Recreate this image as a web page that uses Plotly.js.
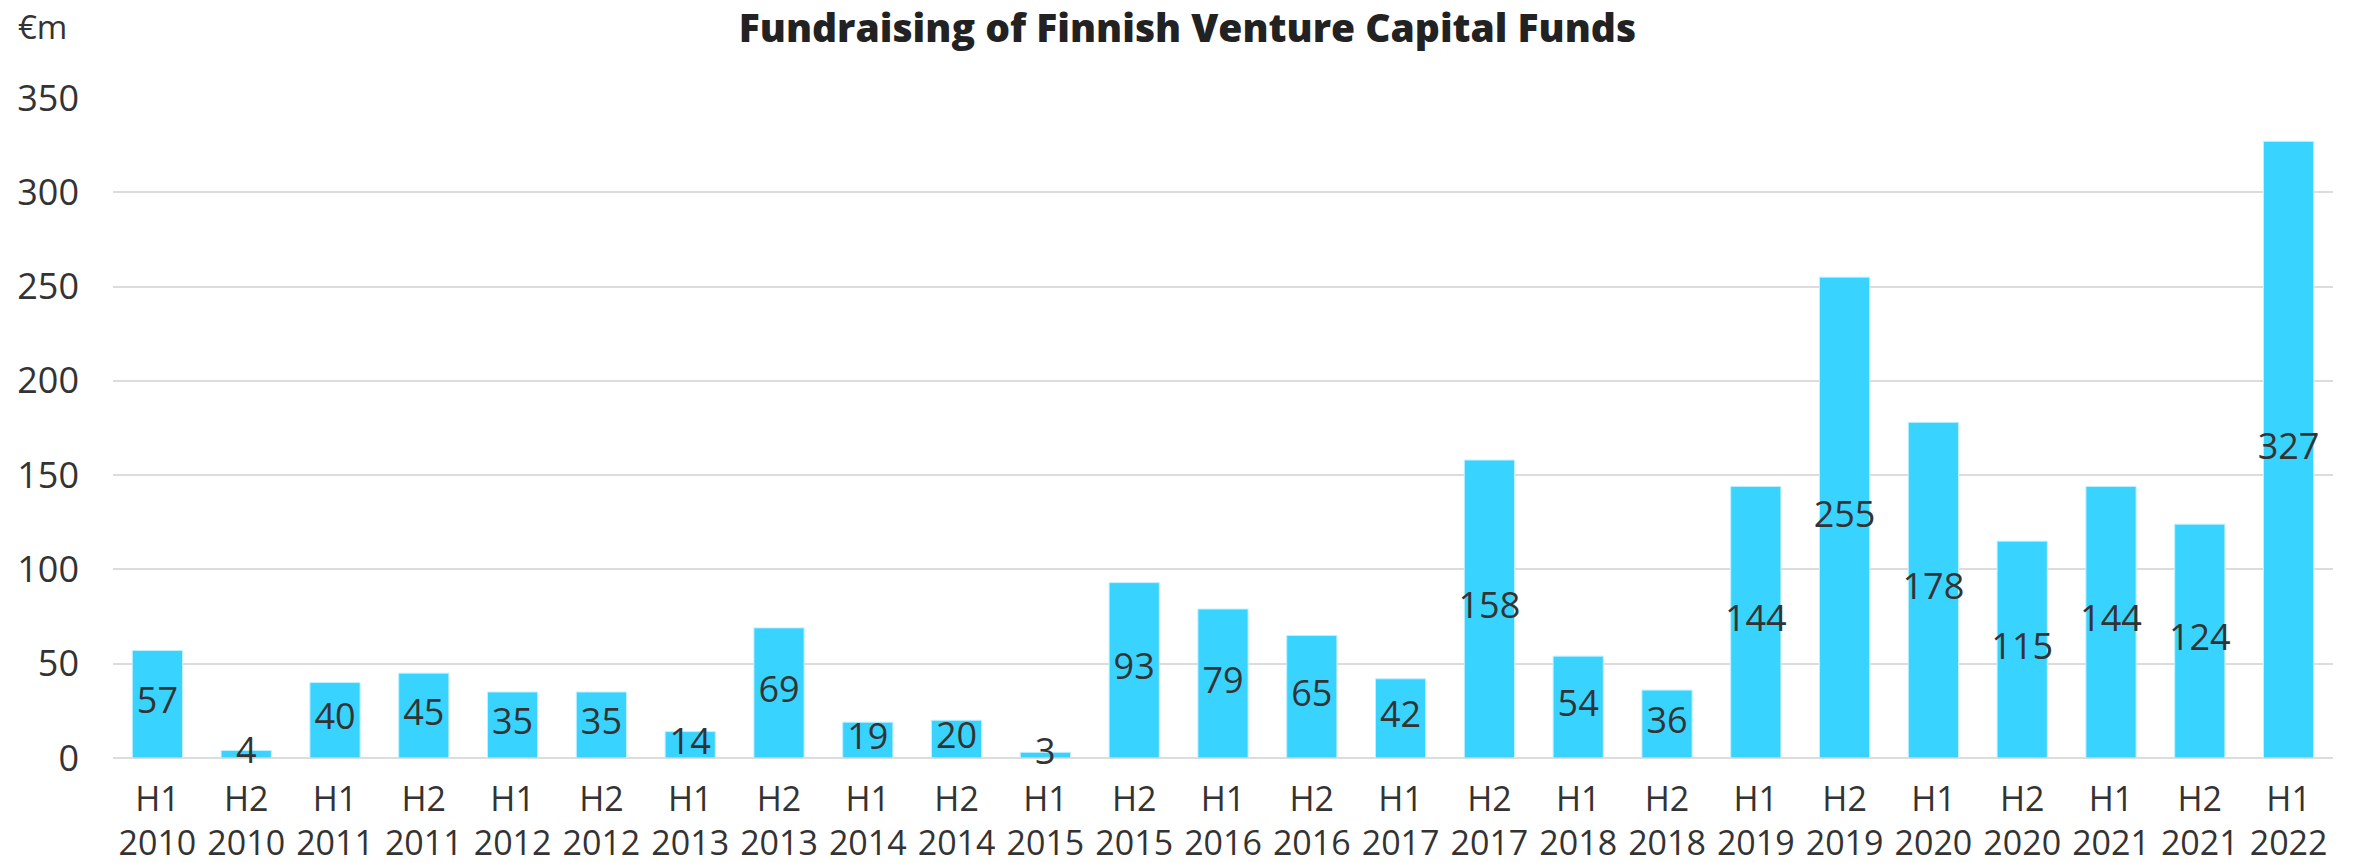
<!DOCTYPE html>
<html>
<head>
<meta charset="utf-8">
<script src="https://cdn.plot.ly/plotly-3.0.1.min.js"></script>
<style>html,body{margin:0;padding:0;background:#fff;}#chart{width:2356px;height:863px;}</style>
</head>
<body>
<div id="chart"></div>
<script>
const periods = ["H1","H2","H1","H2","H1","H2","H1","H2","H1","H2","H1","H2","H1","H2","H1","H2","H1","H2","H1","H2","H1","H2","H1","H2","H1"];
const years = ["2010","2010","2011","2011","2012","2012","2013","2013","2014","2014","2015","2015","2016","2016","2017","2017","2018","2018","2019","2019","2020","2020","2021","2021","2022"];
const values = [57,4,40,45,35,35,14,69,19,20,3,93,79,65,42,158,54,36,144,255,178,115,144,124,327];
const yTicks = [0,50,100,150,200,250,300,350];

const categories = periods.map((p,i) => p + "<br>" + years[i]);
const FONT = "'Open Sans', 'Noto Sans', sans-serif";
const TXT = "#333333";

const bars = {
  type: "bar",
  x: categories,
  y: values,
  marker: {color: "#38D3FF", line: {color: "#bff0ff", width: 1}},
  hoverinfo: "skip",
  showlegend: false
};
const labels = {
  type: "scatter",
  mode: "text",
  x: categories,
  y: values.map(v => v / 2),
  text: values.map(String),
  textposition: "middle center",
  textfont: {family: FONT, size: 36, color: TXT},
  cliponaxis: false,
  hoverinfo: "skip",
  showlegend: false
};

const layout = {
  width: 2356,
  height: 863,
  margin: {l: 113, r: 23, t: 98, b: 105, pad: 0},
  paper_bgcolor: "#ffffff",
  plot_bgcolor: "#ffffff",
  bargap: 0.435,
  font: {family: FONT, color: TXT, size: 35},
  title: {
    text: "Fundraising of Finnish Venture Capital Funds",
    font: {family: FONT, size: 39, color: "#222222", weight: 800},
    x: 0.504, xref: "container", xanchor: "center",
    y: 1 - 28/863, yref: "container", yanchor: "middle"
  },
  xaxis: {
    type: "category",
    range: [-0.5, categories.length - 0.5],
    automargin: false,
    tickfont: {family: FONT, size: 34, color: TXT},
    showgrid: false,
    showline: false,
    ticks: "",
    ticklabelstandoff: 18,
    fixedrange: true
  },
  yaxis: {
    range: [0, 350],
    automargin: false,
    tickvals: yTicks,
    ticktext: yTicks.map(String),
    tickfont: {family: FONT, size: 36, color: TXT},
    showgrid: true,
    gridcolor: "#dcdcdc",
    gridwidth: 2,
    zeroline: true,
    zerolinecolor: "#dcdcdc",
    zerolinewidth: 2,
    showline: false,
    ticks: "",
    ticklabelstandoff: 33,
    fixedrange: true
  },
  annotations: [{
    text: "€m",
    xref: "paper", yref: "paper",
    x: 0, xshift: -97, xanchor: "left",
    y: 1 + (98 - 27) / 660, yanchor: "middle",
    showarrow: false,
    font: {family: FONT, size: 33, color: TXT}
  }]
};

Plotly.newPlot("chart", [bars, labels], layout, {staticPlot: true, displayModeBar: false});
</script>
</body>
</html>
